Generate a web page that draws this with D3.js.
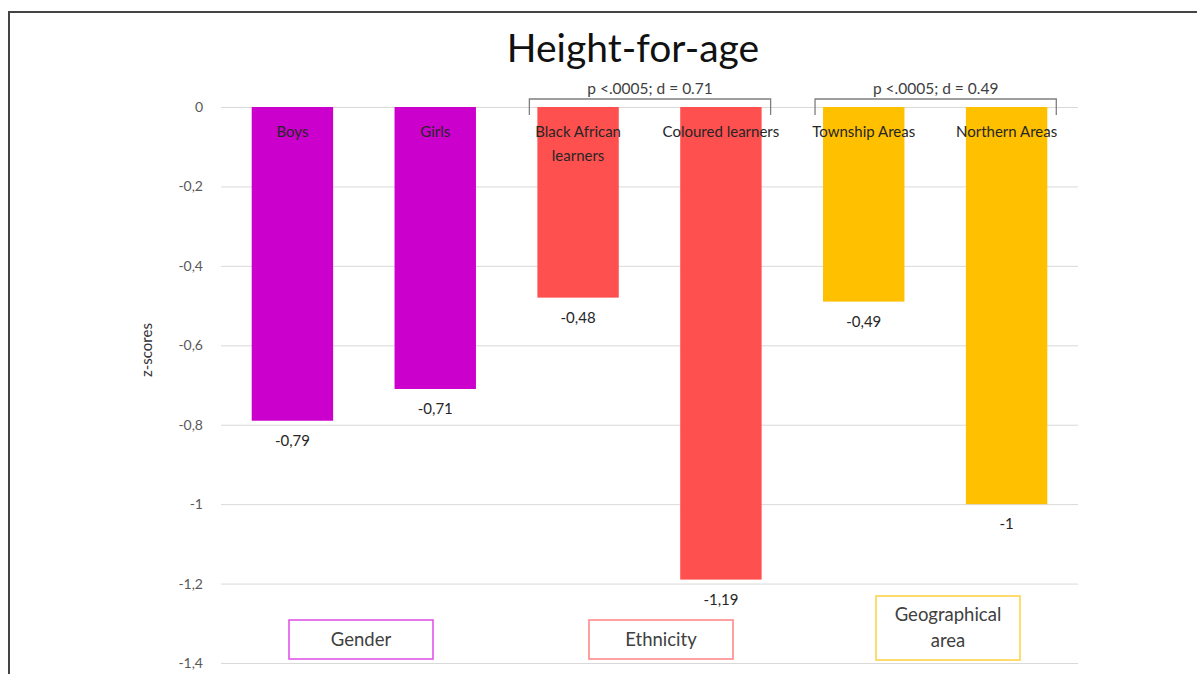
<!DOCTYPE html>
<html>
<head>
<meta charset="utf-8">
<script src="https://cdn.jsdelivr.net/npm/d3@7"></script>
<style>
  body { margin: 0; background: #fff; }
  text { font-family: Lato, "Open Sans", sans-serif; }
</style>
</head>
<body>
<svg id="chart"></svg>
<script>
// data
var categories = ["Boys", "Girls", "Black African learners", "Coloured learners", "Township Areas", "Northern Areas"];
var values = [-0.79, -0.71, -0.48, -1.19, -0.49, -1];
var groupOf = ["Gender", "Gender", "Ethnicity", "Ethnicity", "Geographical area", "Geographical area"];
var groups = ["Gender", "Ethnicity", "Geographical area"];
var barColors = ["#cc00cc", "#ff5050", "#ffc000"];
var boxColors = ["#e055e8", "#ff8a8a", "#ffd34d"];
var yTicks = [0, -0.2, -0.4, -0.6, -0.8, -1, -1.2, -1.4];
var brackets = [
    { from: "Black African learners", to: "Coloured learners", label: "p <.0005; d = 0.71" },
    { from: "Township Areas", to: "Northern Areas", label: "p <.0005; d = 0.49" }
];

var settings = { width: 1197, height: 674 };
var margin = { left: 221, right: 119, top: 107, bottom: 11 };

var svg = d3.select("#chart")
    .attr("width", settings.width)
    .attr("height", settings.height);

// outer frame (runs off the right and bottom of the picture)
svg.append("rect")
    .attr("x", 9).attr("y", 12)
    .attr("width", 1400).attr("height", 900)
    .attr("fill", "none")
    .attr("stroke", "#444")
    .attr("stroke-width", 2);

var x = d3.scaleBand()
    .domain(categories)
    .range([margin.left, settings.width - margin.right])
    .paddingInner(0.43)
    .paddingOuter(0.215);

var y = d3.scaleLinear()
    .domain([0, -1.4])
    .range([margin.top, settings.height - margin.bottom]);

var color = d3.scaleOrdinal().domain(groups).range(barColors);
var boxColor = d3.scaleOrdinal().domain(groups).range(boxColors);

var fmt = function(v) { return String(v).replace(".", ","); };

// gridlines + tick labels
var yAxis = d3.axisLeft(y)
    .tickValues(yTicks)
    .tickSize(-(settings.width - margin.left - margin.right))
    .tickPadding(18)
    .tickFormat(fmt);

var axisG = svg.append("g")
    .attr("transform", "translate(" + margin.left + ",0)")
    .call(yAxis);
axisG.select(".domain").remove();
axisG.selectAll(".tick line").attr("stroke", "#d9d9d9").attr("stroke-width", 1);
axisG.selectAll(".tick text")
    .attr("fill", "#595959")
    .style("font-size", "14px");

// y title
svg.append("text")
    .attr("transform", "translate(152,350) rotate(-90)")
    .attr("text-anchor", "middle")
    .attr("fill", "#333")
    .style("font-size", "15px")
    .text("z-scores");

// chart title
svg.append("text")
    .attr("x", 633).attr("y", 62)
    .attr("text-anchor", "middle")
    .attr("fill", "#111")
    .style("font-size", "39px")
    .text("Height-for-age");

// bars
svg.selectAll(".bar")
    .data(categories)
    .join("rect")
    .attr("class", "bar")
    .attr("x", d => x(d))
    .attr("y", y(0))
    .attr("width", x.bandwidth())
    .attr("height", (d, i) => y(values[i]) - y(0))
    .attr("fill", (d, i) => color(groupOf[i]));

// category names near the top of each bar
var catLabels = svg.selectAll(".cat")
    .data(categories)
    .join("text")
    .attr("class", "cat")
    .attr("x", d => x(d) + x.bandwidth() / 2)
    .attr("y", 137)
    .attr("text-anchor", "middle")
    .attr("fill", "#262626")
    .style("font-size", "15px");
catLabels.each(function(d) {
    var parts = d === "Black African learners" ? ["Black African", "learners"] : [d];
    d3.select(this).selectAll("tspan")
        .data(parts)
        .join("tspan")
        .attr("x", x(d) + x.bandwidth() / 2)
        .attr("dy", (p, i) => i === 0 ? 0 : 24)
        .text(p => p);
});

// value labels below bar ends
svg.selectAll(".val")
    .data(categories)
    .join("text")
    .attr("class", "val")
    .attr("x", d => x(d) + x.bandwidth() / 2)
    .attr("y", (d, i) => y(values[i]) + 25)
    .attr("text-anchor", "middle")
    .attr("fill", "#262626")
    .style("font-size", "15px")
    .text((d, i) => fmt(values[i]));

// significance brackets
brackets.forEach(function(b) {
    var x0 = x(b.from) - 8;
    var x1 = x(b.to) + x.bandwidth() + 9;
    var top = 99, bottom = 115;
    svg.append("path")
        .attr("d", "M" + x0 + "," + bottom + "V" + top + "H" + x1 + "V" + bottom)
        .attr("fill", "none")
        .attr("stroke", "#7f7f7f")
        .attr("stroke-width", 1.3);
    svg.append("text")
        .attr("x", (x0 + x1) / 2)
        .attr("y", 94)
        .attr("text-anchor", "middle")
        .attr("fill", "#404040")
        .style("font-size", "15.5px")
        .text(b.label);
});

// group boxes at the bottom
var boxes = [
    { group: "Gender", lines: ["Gender"], cx: 361, y0: 620, y1: 659 },
    { group: "Ethnicity", lines: ["Ethnicity"], cx: 661, y0: 620, y1: 659 },
    { group: "Geographical area", lines: ["Geographical", "area"], cx: 948, y0: 596, y1: 660 }
];
boxes.forEach(function(b) {
    var w = 144;
    svg.append("rect")
        .attr("x", b.cx - w / 2).attr("y", b.y0)
        .attr("width", w).attr("height", b.y1 - b.y0)
        .attr("fill", "#fff")
        .attr("stroke", boxColor(b.group))
        .attr("stroke-width", 1.6);
    var t = svg.append("text")
        .attr("text-anchor", "middle")
        .attr("fill", "#404040")
        .style("font-size", "18.5px");
    var mid = (b.y0 + b.y1) / 2;
    var n = b.lines.length;
    b.lines.forEach(function(line, i) {
        t.append("tspan")
            .attr("x", b.cx)
            .attr("y", mid + 6 + (i - (n - 1) / 2) * 26)
            .text(line);
    });
});
</script>
</body>
</html>
